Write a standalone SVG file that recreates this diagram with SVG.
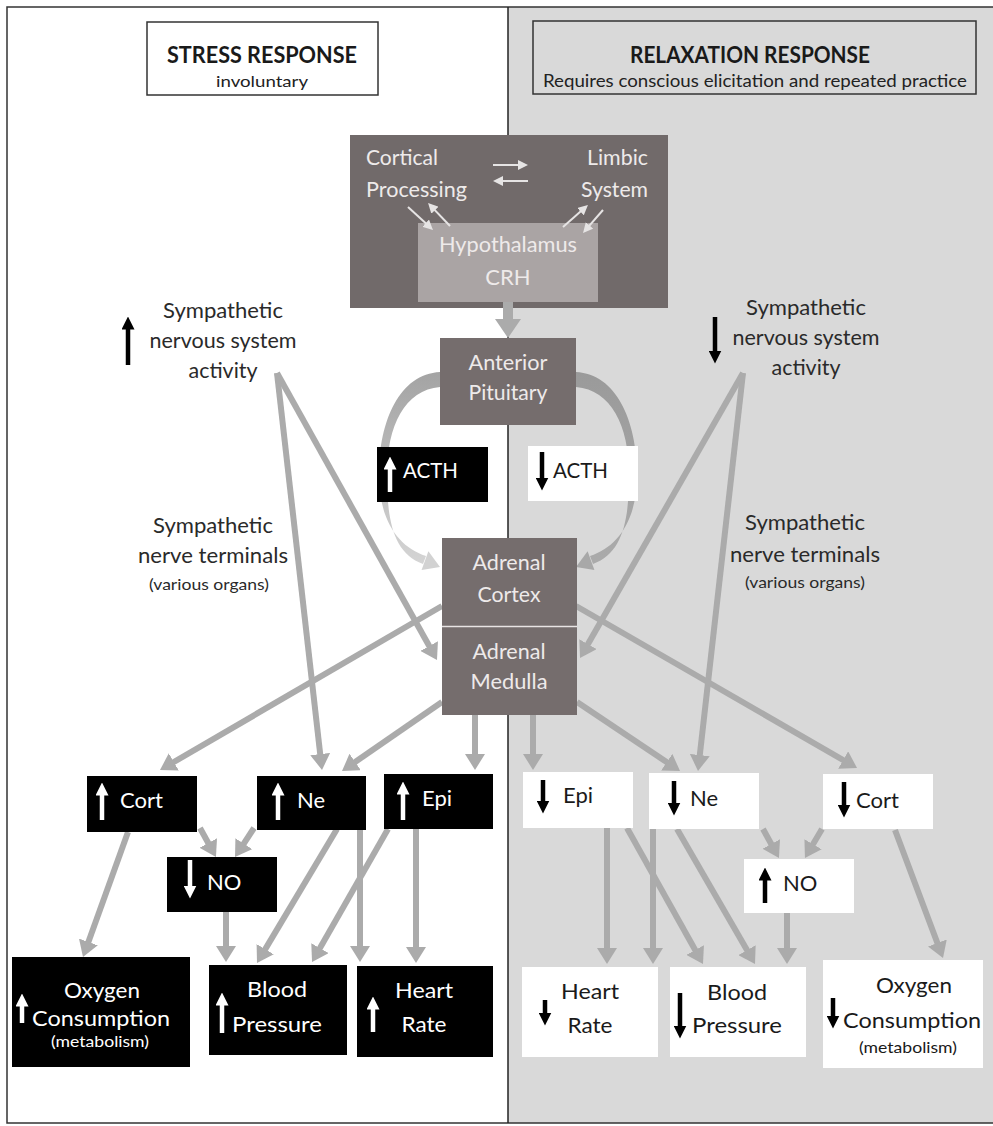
<svg xmlns="http://www.w3.org/2000/svg" width="993" height="1126" viewBox="0 0 993 1126">
<style>
text{font-family:Lato,"Liberation Sans",sans-serif;}
.lt{fill:#eeeaea;font-size:22px;}
.wt{fill:#ffffff;font-size:22px;}
.bt{fill:#1a1a1a;font-size:22px;}
.lb{fill:#2a2a2a;font-size:22px;}
.sm{font-size:16px;}
.c{text-anchor:middle;}
.dk{fill:#756d6d;}
.blk{fill:#000000;}
.wht{fill:#ffffff;}
.con line{stroke:#ababab;stroke-width:6;marker-end:url(#ah);}
.sw line{stroke:#e6e4e4;stroke-width:2;marker-end:url(#aw);}
.gw{stroke:#ffffff;stroke-width:4.5;marker-end:url(#tw);}
.gb{stroke:#000000;stroke-width:4.5;marker-end:url(#tb);}
</style>
<defs>
<marker id="ah" viewBox="0 0 16 20" refX="8" refY="10" markerWidth="16" markerHeight="20" markerUnits="userSpaceOnUse" orient="auto"><path d="M0,0 L16,10 L0,20 z" fill="#ababab"/></marker>
<marker id="aw" viewBox="0 0 10 10" refX="5" refY="5" markerWidth="10" markerHeight="10" markerUnits="userSpaceOnUse" orient="auto"><path d="M0,0 L10,5 L0,10 z" fill="#e6e4e4"/></marker>
<marker id="tw" viewBox="0 0 12 12" refX="6" refY="6" markerWidth="13" markerHeight="13" markerUnits="userSpaceOnUse" orient="auto"><path d="M0,0 L12,6 L0,12 z" fill="#ffffff"/></marker>
<marker id="tb" viewBox="0 0 12 12" refX="6" refY="6" markerWidth="13" markerHeight="13" markerUnits="userSpaceOnUse" orient="auto"><path d="M0,0 L12,6 L0,12 z" fill="#000000"/></marker>
<linearGradient id="gl" gradientUnits="userSpaceOnUse" x1="0" y1="370" x2="0" y2="570"><stop offset="0" stop-color="#a3a3a3"/><stop offset="1" stop-color="#d6d6d6"/></linearGradient>
<linearGradient id="gr" gradientUnits="userSpaceOnUse" x1="0" y1="370" x2="0" y2="570"><stop offset="0" stop-color="#9a9a9a"/><stop offset="1" stop-color="#ababab"/></linearGradient>
</defs>

<!-- background -->
<rect x="0" y="0" width="993" height="1126" fill="#ffffff"/>
<rect x="508" y="7" width="485" height="1116" fill="#d9d9d9"/>
<rect x="7" y="7" width="992" height="1116" fill="none" stroke="#333" stroke-width="1.5"/>
<line x1="508" y1="7" x2="508" y2="1123" stroke="#222" stroke-width="1.5"/>

<!-- headers -->
<g id="stress-header">
<rect x="147" y="22" width="231" height="73" fill="#ffffff" stroke="#333" stroke-width="1.5"/>
<text x="262" y="63" class="c" font-size="22" font-weight="bold" fill="#1a1a1a" textLength="190" lengthAdjust="spacingAndGlyphs">STRESS RESPONSE</text>
<text x="262" y="87" class="c" font-size="16" fill="#222" textLength="92" lengthAdjust="spacingAndGlyphs">involuntary</text>
</g>
<g id="relax-header">
<rect x="533" y="21" width="443" height="73" fill="#d9d9d9" stroke="#333" stroke-width="1.5"/>
<text x="750" y="63" class="c" font-size="22" font-weight="bold" fill="#1a1a1a" textLength="240" lengthAdjust="spacingAndGlyphs">RELAXATION RESPONSE</text>
<text x="755" y="87" class="c" font-size="17" fill="#222" textLength="424" lengthAdjust="spacingAndGlyphs">Requires conscious elicitation and repeated practice</text>
</g>

<!-- brain box -->
<g id="brain">
<rect x="350" y="135" width="318" height="173" fill="#716a6a"/>
<text x="366" y="165" class="lt" textLength="72" lengthAdjust="spacingAndGlyphs">Cortical</text>
<text x="366" y="197" class="lt" textLength="101" lengthAdjust="spacingAndGlyphs">Processing</text>
<text x="648" y="165" class="lt" text-anchor="end" textLength="61" lengthAdjust="spacingAndGlyphs">Limbic</text>
<text x="648" y="197" class="lt" text-anchor="end" textLength="67" lengthAdjust="spacingAndGlyphs">System</text>
</g>
<g id="hypothalamus">
<rect x="418" y="223" width="180" height="79" fill="#aaa4a4"/>
<text x="508" y="252" class="lt c" textLength="138" lengthAdjust="spacingAndGlyphs">Hypothalamus</text>
<text x="508" y="285" class="lt c">CRH</text>
</g>
<g id="brain-arrows" class="sw">
<line x1="493" y1="165" x2="523" y2="165"/>
<line x1="528" y1="181" x2="498" y2="181"/>
<line x1="408" y1="207" x2="429.3" y2="226.6"/>
<line x1="450" y1="226" x2="431.5" y2="206.6"/>
<line x1="563" y1="227" x2="584.2" y2="208.3"/>
<line x1="603" y1="210" x2="586.3" y2="229.2"/>
</g>

<!-- connectors -->
<g id="connectors">
<rect x="503" y="302" width="10" height="20" fill="#ababab"/>
<polygon points="495,319 521,319 508,338" fill="#ababab"/>
<path d="M440,372 C400,374 379,420 379,475 C379,520 398,547 426,556 L423,564 C393,553 387,520 387,475 C387,425 405,390 440,387 Z" fill="url(#gl)"/>
<polygon points="440,567 421.6,570 428.4,551.2" fill="#d2d2d2"/>
<path d="M576,372 C616,374 637,420 637,475 C637,520 618,547 590,556 L593,564 C623,553 629,520 629,475 C629,425 611,390 576,387 Z" fill="url(#gr)"/>
<polygon points="576,567 594.4,570 587.6,551.2" fill="#a8a8a8"/>
<g class="con">
<line x1="277" y1="373" x2="433.1" y2="653"/>
<line x1="277" y1="373" x2="321.1" y2="762"/>
<line x1="442" y1="606" x2="166.9" y2="766"/>
<line x1="442" y1="702" x2="348.6" y2="766.5"/>
<line x1="475" y1="715" x2="475" y2="762"/>
<line x1="200" y1="828" x2="212.1" y2="850"/>
<line x1="254" y1="828" x2="239.4" y2="850.3"/>
<line x1="128" y1="832" x2="85.7" y2="949.5"/>
<line x1="226" y1="912" x2="226" y2="954"/>
<line x1="337" y1="829" x2="261.1" y2="956.1"/>
<line x1="388" y1="829" x2="316" y2="955.1"/>
<line x1="360" y1="829" x2="360" y2="954"/>
<line x1="416" y1="829" x2="416" y2="955"/>
<line x1="743" y1="373" x2="584" y2="651.1"/>
<line x1="743" y1="373" x2="698.9" y2="763"/>
<line x1="576" y1="606" x2="850.1" y2="764"/>
<line x1="577" y1="702" x2="673.4" y2="766.6"/>
<line x1="533" y1="715" x2="533" y2="762"/>
<line x1="763" y1="829" x2="775.1" y2="851"/>
<line x1="822" y1="829" x2="809" y2="851.1"/>
<line x1="895" y1="830" x2="940.2" y2="950.5"/>
<line x1="787" y1="913" x2="787" y2="956"/>
<line x1="607" y1="828" x2="607" y2="956"/>
<line x1="627" y1="828" x2="699.1" y2="957"/>
<line x1="653" y1="829" x2="653" y2="956"/>
<line x1="677" y1="829" x2="751" y2="957.1"/>
</g>
</g>

<!-- central nodes -->
<g id="pituitary">
<rect x="440" y="338" width="136" height="87" class="dk"/>
<text x="508" y="370" class="lt c" textLength="79" lengthAdjust="spacingAndGlyphs">Anterior</text>
<text x="508" y="400" class="lt c" textLength="79" lengthAdjust="spacingAndGlyphs">Pituitary</text>
</g>
<g id="acth-up">
<rect x="377" y="447" width="111" height="55" class="blk"/>
<line x1="390" y1="492" x2="390" y2="463" class="gw"/>
<text x="403" y="478" class="wt" textLength="55" lengthAdjust="spacingAndGlyphs">ACTH</text>
</g>
<g id="acth-down">
<rect x="528" y="446" width="110" height="55" class="wht"/>
<line x1="542" y1="452" x2="542" y2="484" class="gb"/>
<text x="553" y="478" class="bt" textLength="55" lengthAdjust="spacingAndGlyphs">ACTH</text>
</g>
<g id="adrenal-cortex">
<rect x="442" y="538" width="135" height="88" class="dk"/>
<text x="509" y="570" class="lt c" textLength="73" lengthAdjust="spacingAndGlyphs">Adrenal</text>
<text x="509" y="602" class="lt c" textLength="63" lengthAdjust="spacingAndGlyphs">Cortex</text>
</g>
<g id="adrenal-medulla">
<rect x="442" y="627" width="135" height="88" class="dk"/>
<line x1="442" y1="626.5" x2="577" y2="626.5" stroke="#e8e4e4" stroke-width="1.5"/>
<text x="509" y="659" class="lt c" textLength="73" lengthAdjust="spacingAndGlyphs">Adrenal</text>
<text x="509" y="689" class="lt c" textLength="77" lengthAdjust="spacingAndGlyphs">Medulla</text>
</g>

<!-- sympathetic labels -->
<g id="symp-left">
<line x1="128" y1="365" x2="128" y2="323" class="gb"/>
<text x="223" y="318" class="lb c" textLength="120" lengthAdjust="spacingAndGlyphs">Sympathetic</text>
<text x="223" y="348" class="lb c" textLength="147" lengthAdjust="spacingAndGlyphs">nervous system</text>
<text x="223" y="378" class="lb c" textLength="69" lengthAdjust="spacingAndGlyphs">activity</text>
</g>
<g id="symp-terminals-left">
<text x="213" y="533" class="lb c" textLength="120" lengthAdjust="spacingAndGlyphs">Sympathetic</text>
<text x="213" y="563" class="lb c" textLength="150" lengthAdjust="spacingAndGlyphs">nerve terminals</text>
<text x="209" y="590" class="lb c sm" textLength="120" lengthAdjust="spacingAndGlyphs">(various organs)</text>
</g>
<g id="symp-right">
<line x1="715" y1="317" x2="715" y2="357" class="gb"/>
<text x="806" y="315" class="lb c" textLength="120" lengthAdjust="spacingAndGlyphs">Sympathetic</text>
<text x="806" y="345" class="lb c" textLength="147" lengthAdjust="spacingAndGlyphs">nervous system</text>
<text x="806" y="375" class="lb c" textLength="69" lengthAdjust="spacingAndGlyphs">activity</text>
</g>
<g id="symp-terminals-right">
<text x="805" y="530" class="lb c" textLength="120" lengthAdjust="spacingAndGlyphs">Sympathetic</text>
<text x="805" y="562" class="lb c" textLength="150" lengthAdjust="spacingAndGlyphs">nerve terminals</text>
<text x="805" y="588" class="lb c sm" textLength="120" lengthAdjust="spacingAndGlyphs">(various organs)</text>
</g>

<!-- stress side -->
<g id="cort-up">
<rect x="87" y="776" width="110" height="56" class="blk"/>
<line x1="102" y1="820" x2="102" y2="789" class="gw"/>
<text x="120" y="808" class="wt" textLength="43" lengthAdjust="spacingAndGlyphs">Cort</text>
</g>
<g id="ne-up">
<rect x="257" y="776" width="109" height="54" class="blk"/>
<line x1="278" y1="820" x2="278" y2="789" class="gw"/>
<text x="297" y="808" class="wt">Ne</text>
</g>
<g id="epi-up">
<rect x="384" y="774" width="109" height="55" class="blk"/>
<line x1="403" y1="820" x2="403" y2="788" class="gw"/>
<text x="422" y="806" class="wt">Epi</text>
</g>
<g id="no-down">
<rect x="167" y="857" width="110" height="55" class="blk"/>
<line x1="190" y1="860" x2="190" y2="892" class="gw"/>
<text x="207" y="890" class="wt">NO</text>
</g>
<g id="oxygen-up">
<rect x="12" y="957" width="178" height="110" class="blk"/>
<line x1="22" y1="1023" x2="22" y2="1000" class="gw"/>
<text x="102" y="998" class="wt c" textLength="76" lengthAdjust="spacingAndGlyphs">Oxygen</text>
<text x="101" y="1026" class="wt c" textLength="138" lengthAdjust="spacingAndGlyphs">Consumption</text>
<text x="100" y="1047" class="wt c sm" textLength="98" lengthAdjust="spacingAndGlyphs">(metabolism)</text>
</g>
<g id="bp-up">
<rect x="209" y="965" width="138" height="90" class="blk"/>
<line x1="222" y1="1033" x2="222" y2="999" class="gw"/>
<text x="277" y="997" class="wt c" textLength="60" lengthAdjust="spacingAndGlyphs">Blood</text>
<text x="277" y="1032" class="wt c" textLength="90" lengthAdjust="spacingAndGlyphs">Pressure</text>
</g>
<g id="hr-up">
<rect x="357" y="966" width="136" height="91" class="blk"/>
<line x1="373" y1="1032" x2="373" y2="1003" class="gw"/>
<text x="424" y="998" class="wt c" textLength="58" lengthAdjust="spacingAndGlyphs">Heart</text>
<text x="424" y="1032" class="wt c" textLength="45" lengthAdjust="spacingAndGlyphs">Rate</text>
</g>

<!-- relaxation side -->
<g id="epi-down">
<rect x="523" y="772" width="110" height="56" class="wht"/>
<line x1="543" y1="780" x2="543" y2="807" class="gb"/>
<text x="563" y="803" class="bt">Epi</text>
</g>
<g id="ne-down">
<rect x="649" y="773" width="110" height="56" class="wht"/>
<line x1="674" y1="781" x2="674" y2="809" class="gb"/>
<text x="690" y="806" class="bt">Ne</text>
</g>
<g id="cort-down">
<rect x="823" y="774" width="110" height="55" class="wht"/>
<line x1="844" y1="782" x2="844" y2="811" class="gb"/>
<text x="856" y="808" class="bt" textLength="43" lengthAdjust="spacingAndGlyphs">Cort</text>
</g>
<g id="no-up">
<rect x="744" y="859" width="110" height="54" class="wht"/>
<line x1="765" y1="903" x2="765" y2="874" class="gb"/>
<text x="783" y="891" class="bt">NO</text>
</g>
<g id="hr-down">
<rect x="522" y="967" width="136" height="90" class="wht"/>
<line x1="545" y1="1000" x2="545" y2="1019" class="gb"/>
<text x="590" y="999" class="bt c" textLength="58" lengthAdjust="spacingAndGlyphs">Heart</text>
<text x="590" y="1033" class="bt c" textLength="45" lengthAdjust="spacingAndGlyphs">Rate</text>
</g>
<g id="bp-down">
<rect x="670" y="967" width="136" height="90" class="wht"/>
<line x1="680" y1="993" x2="680" y2="1032" class="gb"/>
<text x="737" y="1000" class="bt c" textLength="60" lengthAdjust="spacingAndGlyphs">Blood</text>
<text x="737" y="1033" class="bt c" textLength="90" lengthAdjust="spacingAndGlyphs">Pressure</text>
</g>
<g id="oxygen-down">
<rect x="823" y="960" width="160" height="108" class="wht"/>
<line x1="833" y1="998" x2="833" y2="1022" class="gb"/>
<text x="914" y="993" class="bt c" textLength="76" lengthAdjust="spacingAndGlyphs">Oxygen</text>
<text x="912" y="1028" class="bt c" textLength="138" lengthAdjust="spacingAndGlyphs">Consumption</text>
<text x="908" y="1053" class="bt c sm" textLength="98" lengthAdjust="spacingAndGlyphs">(metabolism)</text>
</g>
</svg>
